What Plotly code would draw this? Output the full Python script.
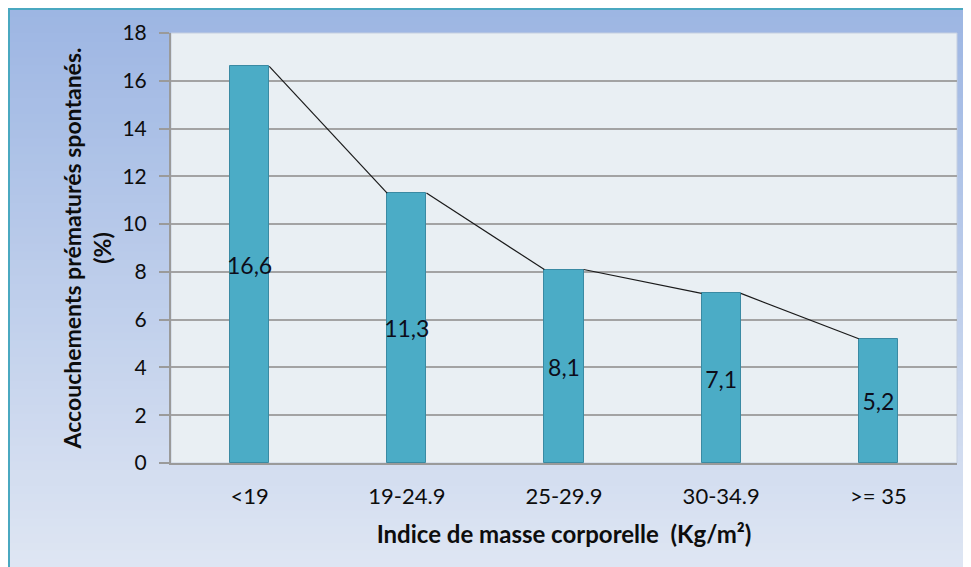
import plotly.graph_objects as go

categories = ["<19", "19-24.9", "25-29.9", "30-34.9", ">= 35"]
values = [16.6, 11.3, 8.1, 7.1, 5.2]
value_labels = ["16,6", "11,3", "8,1", "7,1", "5,2"]
y_ticks = [0, 2, 4, 6, 8, 10, 12, 14, 16, 18]

OFF = 8  # page body margin
W, H = 971 - OFF, 567 - OFF
L, T = 171 - OFF, 33 - OFF
PR, PB = 957 - OFF, 463 - OFF
R, B = W - PR, H - PB
pw, ph = PR - L, PB - T
BAR_W = 0.25

def px_x(p):
    return (p - OFF - L) / pw

def px_y(p):
    return (PB - (p - OFF)) / ph

idx = list(range(len(categories)))

fig = go.Figure()

lx, ly = [], []
for i in range(len(values) - 1):
    lx += [i + BAR_W / 2, i + 1 - BAR_W / 2, None]
    ly += [values[i], values[i + 1], None]
fig.add_trace(go.Scatter(x=lx, y=ly, mode="lines",
                         line=dict(color="#1a1a1a", width=1.2),
                         hoverinfo="skip", showlegend=False))

fig.add_trace(go.Bar(x=idx, y=values, width=BAR_W,
                     marker=dict(color="#4bacc6", line=dict(color="#3a8aa3", width=1)),
                     showlegend=False))

fig.add_trace(go.Scatter(x=idx, y=[v / 2 - 0.15 for v in values], text=value_labels,
                         mode="text", textposition="middle center",
                         textfont=dict(family="Lato, Carlito, sans-serif", size=23, color="#0d0d1a"),
                         cliponaxis=False, hoverinfo="skip", showlegend=False))

shapes = []
top_c = (157, 182, 227)
bot_c = (223, 230, 243)
y0p, y1p = 9, 575
n = 70
for k in range(n):
    a = k / (n - 1)
    c = tuple(int(round(top_c[j] + (bot_c[j] - top_c[j]) * a)) for j in range(3))
    ya = y0p + (y1p - y0p) * k / n
    yb = y0p + (y1p - y0p) * (k + 1) / n + 1
    shapes.append(dict(type="rect", xref="paper", yref="paper", layer="below",
                       x0=px_x(9), x1=px_x(990), y0=px_y(ya), y1=px_y(yb),
                       fillcolor="rgb(%d,%d,%d)" % c, line=dict(width=0)))
shapes.append(dict(type="rect", xref="paper", yref="paper", layer="below",
                   x0=px_x(9), x1=px_x(1000), y0=px_y(9), y1=px_y(600),
                   fillcolor="rgba(0,0,0,0)", line=dict(color="#4aa8c0", width=2)))
shapes.append(dict(type="rect", xref="paper", yref="paper", layer="below",
                   x0=0, x1=1, y0=0, y1=1,
                   fillcolor="#e9eff3", line=dict(color="#c5cfe0", width=1)))

fig.update_layout(
    width=W, height=H,
    margin=dict(l=L, r=R, t=T, b=B),
    paper_bgcolor="#ffffff",
    plot_bgcolor="rgba(0,0,0,0)",
    shapes=shapes,
    bargap=0,
    font=dict(family="Lato, Carlito, sans-serif", color="#0d0d0d"),
    xaxis=dict(range=[-0.5, 4.5], tickvals=idx, ticktext=categories,
               tickfont=dict(size=22), showgrid=False, zeroline=False,
               showline=True, linecolor="#9a9a9a", linewidth=2, ticks="",
               ticklabelstandoff=13,
               title=dict(text="<b>Indice de masse corporelle  (Kg/m²)</b>",
                          font=dict(size=24), standoff=18)),
    yaxis=dict(range=[0, 18], tickvals=y_ticks, tickfont=dict(size=21),
               showgrid=True, gridcolor="#a3a3a3", gridwidth=1.5, zeroline=False,
               showline=True, linecolor="#9a9a9a", linewidth=2,
               ticks="outside", ticklen=10, tickcolor="#9a9a9a", tickwidth=1.5,
               ticklabelstandoff=8,
               title=dict(text="<b>Accouchements prématurés spontanés.<br>(%)</b>",
                          font=dict(size=23), standoff=4)),
)

fig.write_html("out.html")
